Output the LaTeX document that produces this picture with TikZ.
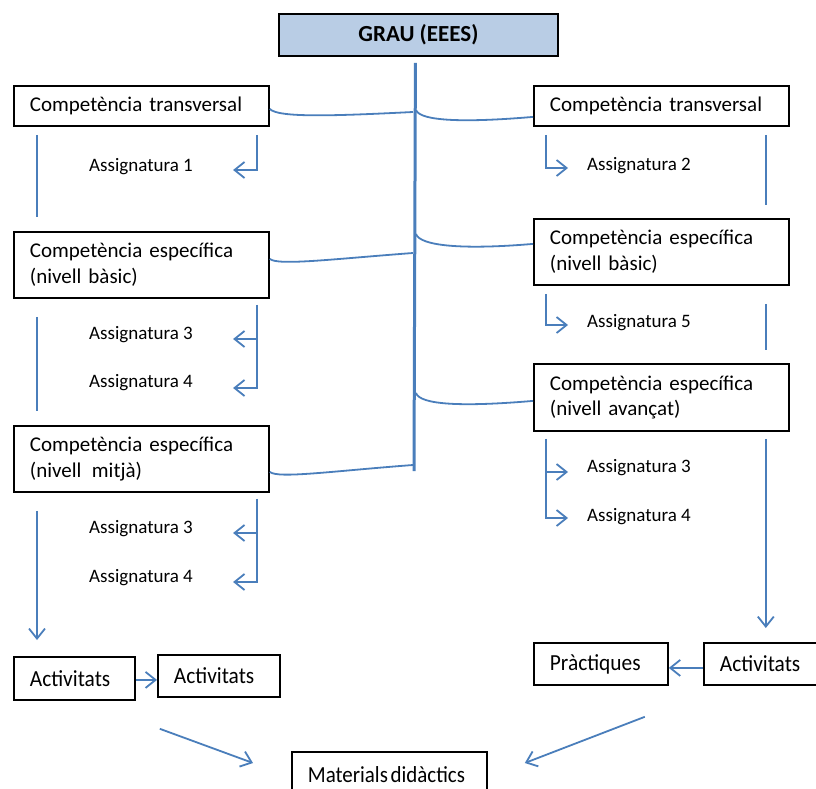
\documentclass[tikz,border=0pt]{standalone}
\usepackage{fontspec}
\setmainfont{Carlito}
\usetikzlibrary{arrows.meta,calc}
\definecolor{linkblue}{HTML}{4A7EBB}
\definecolor{headfill}{HTML}{B9CDE5}
% narrow setting used in the bottom boxes
\newcommand{\narrowtext}[2][0.93]{\scalebox{#1}[1]{#2}}

\begin{document}
\begin{tikzpicture}[x=1pt,y=-1pt,
  conn/.style={draw=linkblue,line width=1.8pt},
  trunk/.style={draw=linkblue,line width=3pt},
  tip/.style={-{Straight Barb[length=10pt,width=16pt,line width=1.8pt]}},
  box/.style={draw=black,line width=1.8pt,anchor=north west,inner xsep=16pt,
    inner ysep=0pt,align=left,font=\fontsize{21}{25.5}\selectfont},
  lowbox/.style={box,font=\fontsize{23}{27}\selectfont},
  subj/.style={anchor=west,inner sep=0pt,font=\fontsize{19}{22}\selectfont},
]
\useasboundingbox (0,0) rectangle (816,789);

% header
\node[draw=black,line width=1.8pt,fill=headfill,anchor=north west,
  minimum width=279pt,minimum height=42pt,inner sep=0pt,
  font=\fontsize{23}{27}\selectfont\bfseries] (grau) at (278,13) {GRAU (EEES)};

% competence boxes
\node[box,text width=223pt,minimum height=40pt] (ctL) at (13,85) {Competència transversal};
\node[box,text width=223pt,minimum height=40pt] (ctR) at (533,85) {Competència transversal};
\node[box,text width=223pt,minimum height=66pt] (ceL1) at (13,231) {Competència específica\\(nivell bàsic)};
\node[box,text width=223pt,minimum height=66pt] (ceR1) at (533,218) {Competència específica\\(nivell bàsic)};
\node[box,text width=223pt,minimum height=67pt] (ceR2) at (533,363) {Competència específica\\(nivell avançat)};
\node[box,text width=223pt,minimum height=66pt] (ceL2) at (13,425) {Competència específica\\(nivell\enspace mitjà)};

% activity boxes
\node[lowbox,text width=89pt,minimum height=43pt] (actL) at (13,656) {\narrowtext{Activitats}};
\node[lowbox,text width=90pt,minimum height=42pt] (actL2) at (157,654) {\narrowtext{Activitats}};
\node[lowbox,text width=102pt,minimum height=42pt] (prac) at (533,642) {\narrowtext{Pràctiques}};
\node[lowbox,text width=83pt,minimum height=42pt] (actR) at (703,642) {\narrowtext{Activitats}};
\node[lowbox,text width=163pt,minimum height=46pt] (mat) at (291,751)
  {\narrowtext[0.91]{Materials\hspace{3pt}didàctics}};

% subjects
\node[subj] (a1) at (89,167) {Assignatura 1};
\node[subj] (a3L) at (89,335) {Assignatura 3};
\node[subj] (a4L) at (89,383) {Assignatura 4};
\node[subj] (a3M) at (89,529) {Assignatura 3};
\node[subj] (a4M) at (89,578) {Assignatura 4};
\node[subj] (a2) at (587,166) {Assignatura 2};
\node[subj] (a5) at (587,323) {Assignatura 5};
\node[subj] (a3R) at (587,468) {Assignatura 3};
\node[subj] (a4R) at (587,517) {Assignatura 4};

% central trunk and its junctions
\coordinate (tBot) at (414,471);
\draw[trunk] ($(grau.south)+(-3,6)$) -- (tBot);
\coordinate (jL1) at (413,112);
\coordinate (jL2) at (413,253);
\coordinate (jL3) at (413,465);
\coordinate (jR1) at (416,110);
\coordinate (jR2) at (416,234);
\coordinate (jR3) at (416,393);

\draw[conn] ($(ctL.east)+(0,3)$) .. controls +(8,9) and +(-80,4) .. (jL1);
\draw[conn] ($(ceL1.east)+(0,-6)$) .. controls +(8,7) and +(-80,6) .. (jL2);
\draw[conn] ($(ceL2.east)+(0,13)$) .. controls +(8,7) and +(-80,6) .. (jL3);
\draw[conn] (jR1) .. controls +(4,11) and +(-70,6) .. ($(ctR.west)+(0,11)$);
\draw[conn] (jR2) .. controls +(4,12) and +(-70,6) .. ($(ceR1.west)+(0,-8)$);
\draw[conn] (jR3) .. controls +(4,12) and +(-70,6) .. ($(ceR2.west)+(0,3.5)$);

% left column
\draw[conn] ($(ctL.south west)+(24,8)$) -- ($(ceL1.north west)+(24,-14)$);
\draw[conn] ($(ceL1.south west)+(24,18)$) -- ($(ceL2.north west)+(24,-14)$);
\draw[conn,tip] ($(ceL2.south west)+(24,18)$) -- ($(actL.north west)+(24,-16)$);

\draw[conn,tip] ($(ctL.south east)+(-13,8)$) |- ($(a1.east)+(40,3)$);
\draw[conn,tip] ($(ceL1.south east)+(-13,6)$) |- ($(a3L.east)+(40,4)$);
\draw[conn,tip] ($(ceL1.south east)+(-13,6)$) |- ($(a4L.east)+(40,5)$);
\draw[conn,tip] ($(ceL2.south east)+(-13,6)$) |- ($(a3M.east)+(40,4)$);
\draw[conn,tip] ($(ceL2.south east)+(-13,6)$) |- ($(a4M.east)+(40,4)$);

% right column
\draw[conn] ($(ctR.south east)+(-24,8)$) -- ($(ceR1.north east)+(-24,-13)$);
\draw[conn] ($(ceR1.south east)+(-24,18)$) -- ($(ceR2.north east)+(-24,-13)$);
\draw[conn,tip] ($(ceR2.south east)+(-24,7)$) -- ($(ceR2.south east |- actR.north)+(-24,-14)$);

\draw[conn,tip] ($(ctR.south west)+(13,8)$) |- ($(a2.west)+(-19,2)$);
\draw[conn,tip] ($(ceR1.south west)+(13,8)$) |- ($(a5.west)+(-19,2)$);
\draw[conn,tip] ($(ceR2.south west)+(13,7)$) |- ($(a3R.west)+(-19,4)$);
\draw[conn,tip] ($(ceR2.south west)+(13,7)$) |- ($(a4R.west)+(-19,1)$);

% activities to materials
\draw[conn,tip] ($(actL.east)+(0,1.5)$) -- ($(actL.east -| actL2.west)+(0,1.5)$);
\draw[conn,tip] ($(actR.west)+(0,4)$) -- ($(actR.west -| prac.east)+(0,4)$);
\draw[conn,tip] ($(actL.south east)+(24,28)$) -- ($(mat.north west)+(-38,12)$);
\draw[conn,tip] ($(prac.south east)+(-24,31)$) -- ($(mat.north east)+(37,12)$);
\end{tikzpicture}
\end{document}
